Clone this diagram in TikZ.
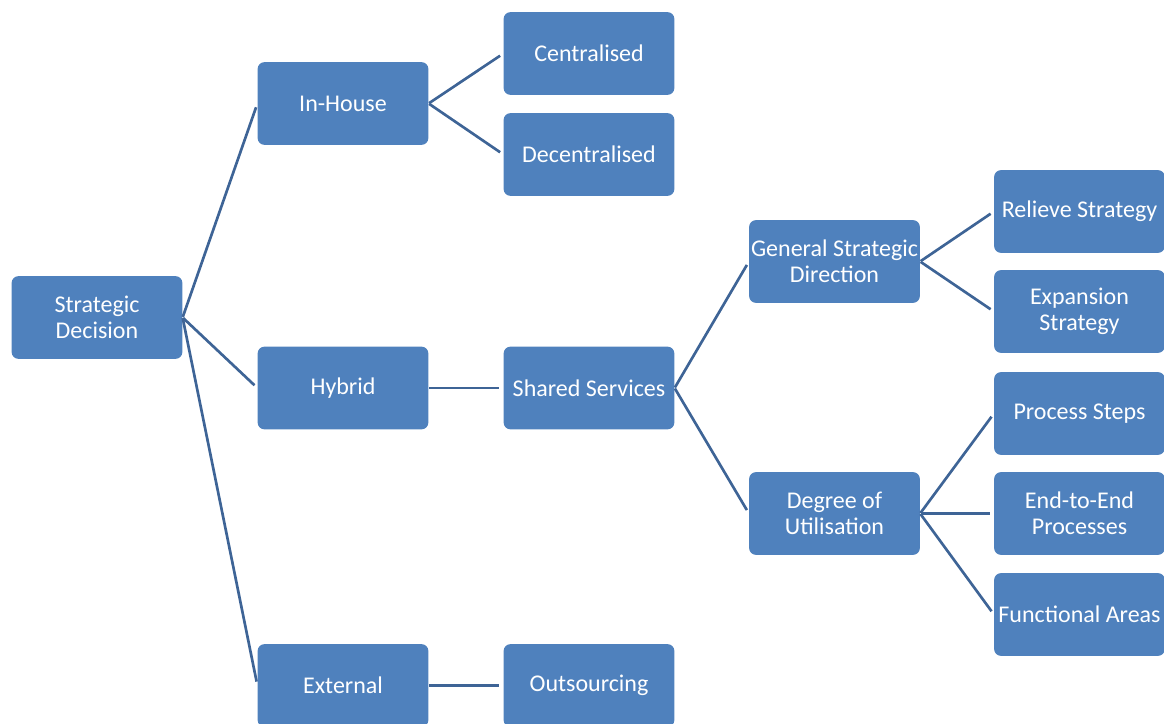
\documentclass[tikz,border=0pt]{standalone}
\usepackage{fontspec}
\setmainfont{Carlito}
\definecolor{boxblue}{RGB}{79,129,189}
\definecolor{lineblue}{RGB}{62,100,150}
\begin{document}
\begin{tikzpicture}[x=0.75pt,y=-0.75pt,
  box/.style={draw=none,fill=boxblue,rounded corners=5pt,minimum width=128pt,minimum height=62pt,
    inner sep=0pt,align=center,text=white,font=\fontsize{18}{19.5}\selectfont},
  link/.style={draw=lineblue,line width=2pt,shorten >=3pt,shorten <=0.5pt}]
\useasboundingbox (0,0) rectangle (1164,724);
\node[box] (sd) at (97,317.5) {Strategic\\Decision};
\node[box] (ih) at (343,103.5) {In-House};
\node[box] (hy) at (343,388) {Hybrid};
\node[box] (ex) at (343,685.5) {External};
\node[box] (ce) at (589,53.5) {Centralised};
\node[box] (de) at (589,154.5) {Decentralised};
\node[box] (ss) at (589,388) {Shared Services};
\node[box] (ou) at (589,685.5) {Outsourcing};
\node[box] (gs) at (834.5,261.5) {General Strategic\\Direction};
\node[box] (du) at (834.5,513.5) {Degree of\\Utilisation};
\node[box] (rs) at (1079.5,211.5) {Relieve Strategy};
\node[box] (es) at (1079.5,311.5) {Expansion\\Strategy};
\node[box] (ps) at (1079.5,413.5) {Process Steps};
\node[box] (ee) at (1079.5,513.5) {End-to-End\\Processes};
\node[box] (fa) at (1079.5,614.5) {Functional Areas};
\draw[link] (sd.east) -- (ih.west);
\draw[link] (sd.east) -- (hy.west);
\draw[link] (sd.east) -- (ex.west);
\draw[link] (ih.east) -- (ce.west);
\draw[link] (ih.east) -- (de.west);
\draw[link] (hy.east) -- (ss.west);
\draw[link] (ex.east) -- (ou.west);
\draw[link] (ss.east) -- (gs.west);
\draw[link] (ss.east) -- (du.west);
\draw[link] (gs.east) -- (rs.west);
\draw[link] (gs.east) -- (es.west);
\draw[link] (du.east) -- (ps.west);
\draw[link] (du.east) -- (ee.west);
\draw[link] (du.east) -- (fa.west);
\end{tikzpicture}
\end{document}
